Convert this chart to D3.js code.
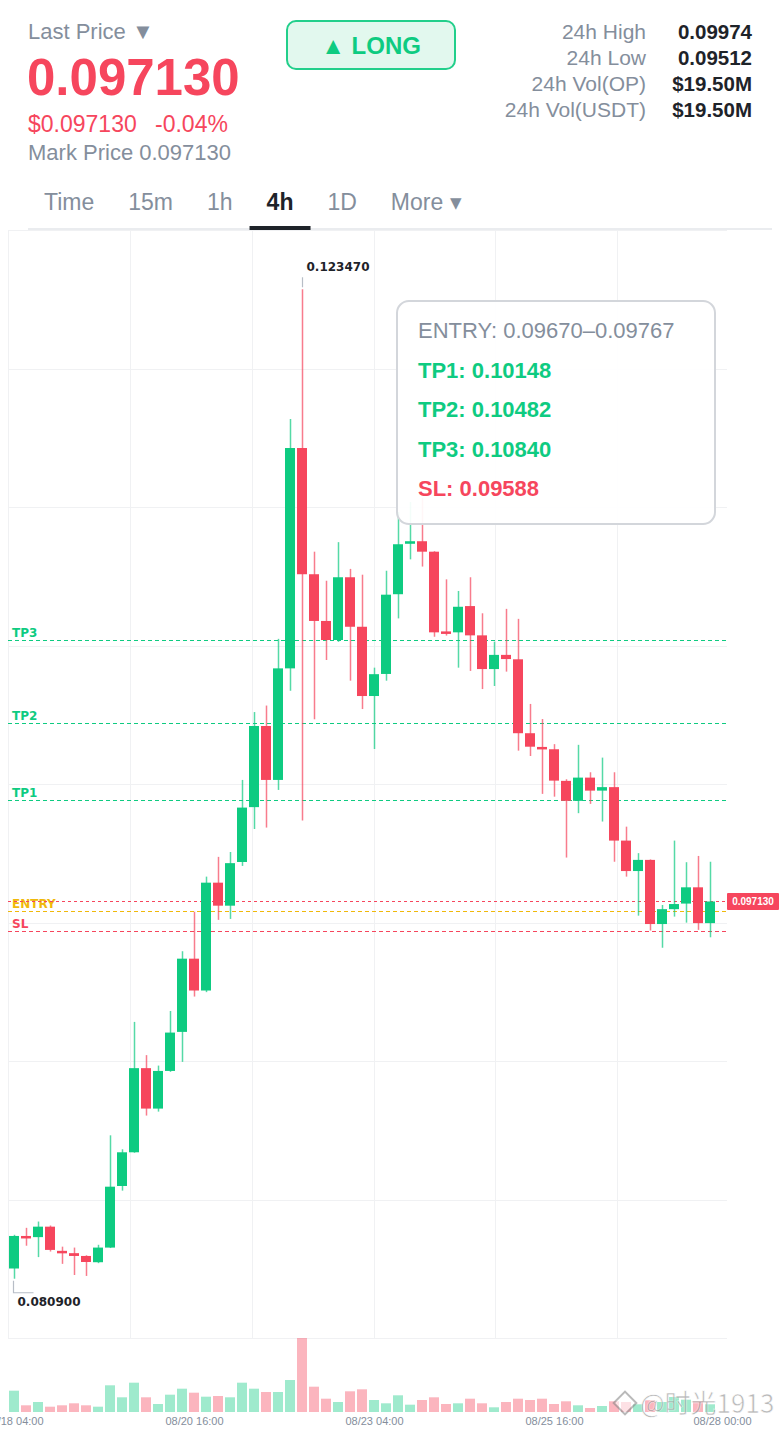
<!DOCTYPE html>
<html>
<head>
<meta charset="utf-8">
<script src="https://cdn.jsdelivr.net/npm/d3@7"></script>
<style>
  body { margin: 0; background: #fff; }
  svg { display: block; }
</style>
</head>
<body>
<div id="wrapper"></div>
<script>
// ---- data ----
const startTime = "2025-08-18 04:00";
const opens  = [0.08134,0.08274,0.08269,0.08314,0.08210,0.08200,0.08188,0.08161,0.08224,0.08489,
                0.08634,0.08996,0.08822,0.08984,0.09152,0.09467,0.09330,0.09794,0.09695,0.09883,
                0.10119,0.10468,0.10236,0.10716,0.11664,0.11121,0.10920,0.10838,0.11108,0.10895,
                0.10597,0.10692,0.11035,0.11252,0.11263,0.11218,0.10875,0.10871,0.10984,0.10858,
                0.10713,0.10774,0.10755,0.10437,0.10378,0.10368,0.10232,0.10146,0.10246,0.10190,
                0.10205,0.09975,0.09844,0.09892,0.09616,0.09680,0.09704,0.09774,0.09620];
const highs  = [0.08279,0.08309,0.08336,0.08319,0.08228,0.08224,0.08191,0.08236,0.08707,0.08647,
                0.09195,0.09052,0.09007,0.09242,0.09499,0.09669,0.09820,0.09905,0.09926,0.10236,
                0.10528,0.10556,0.10843,0.11789,0.12347,0.11218,0.11093,0.11259,0.11144,0.11119,
                0.10719,0.11136,0.11389,0.11432,0.11449,0.11220,0.11099,0.11049,0.11108,0.10953,
                0.10831,0.10972,0.10929,0.10563,0.10498,0.10390,0.10239,0.10387,0.10269,0.10332,
                0.10269,0.10035,0.09921,0.09894,0.09698,0.09975,0.09882,0.09909,0.09884];
const lows   = [0.08090,0.08232,0.08183,0.08207,0.08154,0.08106,0.08102,0.08157,0.08222,0.08469,
                0.08632,0.08792,0.08809,0.08980,0.09023,0.09304,0.09323,0.09634,0.09638,0.09866,
                0.10025,0.10031,0.10193,0.10620,0.10061,0.10497,0.10752,0.10830,0.10663,0.10541,
                0.10369,0.10663,0.10931,0.11185,0.11154,0.10852,0.10857,0.10719,0.10705,0.10627,
                0.10640,0.10702,0.10362,0.10339,0.10176,0.10164,0.09902,0.10093,0.10133,0.10057,
                0.09884,0.09820,0.09652,0.09588,0.09514,0.09648,0.09622,0.09591,0.09559];
const closes = [0.08274,0.08270,0.08314,0.08214,0.08203,0.08188,0.08162,0.08224,0.08486,0.08634,
                0.08996,0.08822,0.08984,0.09149,0.09467,0.09330,0.09794,0.09695,0.09878,0.10117,
                0.10468,0.10236,0.10716,0.11664,0.11121,0.10920,0.10838,0.11108,0.10895,0.10597,
                0.10691,0.11033,0.11250,0.11263,0.11218,0.10871,0.10866,0.10981,0.10858,0.10713,
                0.10774,0.10756,0.10437,0.10379,0.10369,0.10233,0.10146,0.10246,0.10190,0.10205,
                0.09975,0.09844,0.09892,0.09616,0.09680,0.09702,0.09774,0.09620,0.09713];
const volumes = [21.3,6.7,10,5.3,6.7,8.7,6.7,5.3,26.7,14.7,
                 29.3,14.7,8,17.3,23.3,19.3,15.3,16,14.7,29.3,
                 23.3,20,20,32,74,25.3,13.3,10,20.7,22.7,
                 12,8.7,16.7,7.3,12,14.7,8,8.7,13.3,8.7,
                 4.7,10,13.3,12,13.3,8,10.7,6.7,4,6,
                 10.7,10,7.7,11.7,10,15,12.3,10.7,7.7];

const yTickValues = [0.12602,0.11808,0.11013,0.10218,0.09424,0.08629,0.07835];
const xTickLabels = ["08/18 04:00","08/20 16:00","08/23 04:00","08/25 16:00","08/28 00:00"];

const levelNames  = ["TP3","TP2","TP1","ENTRY","SL"];
const levelPrices = [0.10840,0.10482,0.10148,0.09670,0.09588];

const planLabels = ["ENTRY","TP1","TP2","TP3","SL"];
const planTexts  = ["0.09670\u20130.09767","0.10148","0.10482","0.10840","0.09588"];

const statLabels = ["24h High","24h Low","24h Vol(OP)","24h Vol(USDT)"];
const statValues = ["0.09974","0.09512","$19.50M","$19.50M"];

const tabs = ["Time","15m","1h","4h","1D","More \u25BE"];
const activeTab = "4h";

const lastPrice = closes[closes.length - 1];
const changePct = "-0.04%";

// ---- colours / fonts ----
const green = "#0ecb81", red = "#f6465d", orange = "#f0b90b";
const gray = "#848e9c", dark = "#1e2329", grid = "#f0f1f3";
const sans = "'Liberation Sans', Arial, sans-serif";
const dejavu = "'DejaVu Sans', sans-serif";

const parseTime = d3.timeParse("%Y-%m-%d %H:%M");
const t0 = parseTime(startTime);
const candles = opens.map((o, i) => ({
  t: d3.timeHour.offset(t0, 4 * i),
  o, h: highs[i], l: lows[i], c: closes[i], v: volumes[i]
}));

let dimensions = {
  width: 780,
  height: 1430,
  plotLeft: 8,
  plotRight: 727,
  plotTop: 230,
  plotBottom: 1338,
  volBottom: 1412,
}

const wrapper = d3.select("#wrapper")
  .append("svg")
    .attr("width", dimensions.width)
    .attr("height", dimensions.height)
    .attr("font-family", sans)

// ---- header ----
const header = wrapper.append("g")

header.append("text").attr("x", 28).attr("y", 39)
  .attr("font-size", 22).attr("fill", gray).text("Last Price \u25BC")
header.append("text").attr("x", 27).attr("y", 95)
  .attr("font-size", 51).attr("font-weight", 700).attr("fill", red)
  .text(d3.format(".6f")(lastPrice))
header.append("text").attr("x", 28).attr("y", 132)
  .attr("font-size", 23).attr("fill", red).text("$" + d3.format(".6f")(lastPrice))
header.append("text").attr("x", 155).attr("y", 132)
  .attr("font-size", 23).attr("fill", red).text(changePct)
header.append("text").attr("x", 28).attr("y", 160)
  .attr("font-size", 22).attr("fill", gray).text("Mark Price " + d3.format(".6f")(lastPrice))

// LONG badge
header.append("rect")
  .attr("x", 287).attr("y", 21).attr("width", 168).attr("height", 48).attr("rx", 9)
  .attr("fill", "#e2f8ee").attr("stroke", "#22cf8b").attr("stroke-width", 2)
header.append("text").attr("x", 371).attr("y", 54).attr("text-anchor", "middle")
  .attr("font-size", 24).attr("font-weight", 700).attr("fill", green).text("\u25B2 LONG")

// 24h stats
statLabels.forEach((s, i) => {
  header.append("text").attr("x", 646).attr("y", 39 + i * 26).attr("text-anchor", "end")
    .attr("font-size", 21).attr("fill", gray).text(s)
  header.append("text").attr("x", 752).attr("y", 39 + i * 26).attr("text-anchor", "end")
    .attr("font-size", 20.5).attr("font-weight", 700).attr("fill", dark).text(statValues[i])
})

// timeframe tabs
header.append("rect").attr("x", 28).attr("y", 228).attr("width", 744).attr("height", 2).attr("fill", "#eaecef")
let tabX = 44
tabs.forEach(t => {
  const isActive = t === activeTab
  const txt = header.append("text").attr("x", tabX).attr("y", 210)
    .attr("font-size", 23).attr("fill", isActive ? dark : gray)
    .attr("font-weight", isActive ? 700 : 400).text(t)
  const w = txt.node().getComputedTextLength()
  if (isActive) {
    header.append("rect").attr("x", tabX + w / 2 - 30.5).attr("y", 226)
      .attr("width", 61).attr("height", 4).attr("fill", dark)
  }
  tabX += w + 34
})

// ---- scales ----
const yScale = d3.scaleLinear()
  .domain([yTickValues[yTickValues.length - 1], yTickValues[0]])
  .range([dimensions.plotBottom, dimensions.plotTop])

const xScale = d3.scaleTime()
  .domain([d3.timeHour.offset(t0, -2), d3.timeHour.offset(t0, 238)])
  .range([dimensions.plotLeft, dimensions.plotRight + 1])

const volScale = d3.scaleLinear()
  .domain([0, d3.max(volumes)])
  .range([dimensions.volBottom, dimensions.plotBottom])

const step = xScale(d3.timeHour.offset(t0, 4)) - xScale(t0)
const bodyW = step - 2

// ---- grid ----
const gridG = wrapper.append("g")
const hGrid = d3.range(9).map(i => yScale.domain()[0] + i * (yScale.domain()[1] - yScale.domain()[0]) / 8)
gridG.selectAll(".hg").data(hGrid).join("line")
  .attr("x1", dimensions.plotLeft).attr("x2", dimensions.plotRight)
  .attr("y1", d => Math.round(yScale(d)) + 0.5).attr("y2", d => Math.round(yScale(d)) + 0.5)
  .attr("stroke", grid).attr("stroke-width", 1)
const vGrid = d3.range(6).map(i => dimensions.plotLeft + i * (dimensions.plotRight + 12 - dimensions.plotLeft) / 6)
gridG.selectAll(".vg").data(vGrid).join("line")
  .attr("x1", d => Math.round(d) + 0.5).attr("x2", d => Math.round(d) + 0.5)
  .attr("y1", dimensions.plotTop).attr("y2", dimensions.plotBottom)
  .attr("stroke", grid).attr("stroke-width", 1)

// ---- y axis ----
wrapper.append("clipPath").attr("id", "axisClip")
  .append("rect").attr("x", 700).attr("y", 230).attr("width", 80).attr("height", 1200)
const yAxis = wrapper.append("g")
  .attr("clip-path", "url(#axisClip)")
  .attr("transform", `translate(${dimensions.plotRight}, 0)`)
  .call(d3.axisRight(yScale).tickValues(yTickValues).tickFormat(d3.format(".5f")).tickSize(0).tickPadding(4))
yAxis.select(".domain").remove()
yAxis.attr("font-family", sans)
yAxis.selectAll("text").attr("font-size", 10).attr("fill", "#a3a8b0")

// ---- x axis ----
const xAxis = wrapper.append("g")
  .attr("transform", `translate(0, ${dimensions.volBottom})`)
  .call(d3.axisBottom(xScale)
    .tickValues(xTickLabels.map(s => d3.timeParse("%Y/%m/%d %H:%M")(startTime.slice(0, 4) + "/" + s)))
    .tickFormat(d3.timeFormat("%m/%d %H:%M")).tickSize(0).tickPadding(5))
xAxis.select(".domain").remove()
xAxis.attr("font-family", sans)
xAxis.selectAll("text").attr("font-size", 11).attr("fill", gray)

// ---- volume ----
wrapper.append("g").selectAll("rect").data(candles).join("rect")
  .attr("x", d => xScale(d.t) - bodyW / 2)
  .attr("width", bodyW)
  .attr("y", d => volScale(d.v))
  .attr("height", d => dimensions.volBottom - volScale(d.v))
  .attr("fill", d => d.c >= d.o ? green : red)
  .attr("opacity", 0.4)

// ---- level lines ----
const levelColor = n => n === "ENTRY" ? orange : n === "SL" ? red : green
const levels = wrapper.append("g")
levelNames.forEach((n, i) => {
  const y = Math.round(yScale(levelPrices[i])) + 0.5
  levels.append("line")
    .attr("x1", dimensions.plotLeft).attr("x2", dimensions.plotRight)
    .attr("y1", y).attr("y2", y)
    .attr("stroke", levelColor(n)).attr("stroke-width", 1.2)
    .attr("stroke-dasharray", "4,3")
  levels.append("text").attr("x", 12).attr("y", y - 4)
    .attr("font-family", dejavu).attr("font-size", 12).attr("font-weight", 700)
    .attr("fill", levelColor(n)).text(n)
})

// last price line + tag
const yLast = Math.round(yScale(lastPrice)) + 0.5
levels.append("line")
  .attr("x1", dimensions.plotLeft).attr("x2", dimensions.plotRight)
  .attr("y1", yLast).attr("y2", yLast)
  .attr("stroke", red).attr("stroke-width", 1.2).attr("stroke-dasharray", "3,3")
levels.append("rect").attr("x", dimensions.plotRight).attr("y", yLast - 8.5)
  .attr("width", 52).attr("height", 17).attr("rx", 1).attr("fill", red)
levels.append("text").attr("x", dimensions.plotRight + 26).attr("y", yLast + 3.5)
  .attr("text-anchor", "middle").attr("font-size", 10).attr("font-weight", 700)
  .attr("fill", "#fff").text(d3.format(".6f")(lastPrice))

// ---- candles ----
const candleG = wrapper.append("g")
candleG.selectAll(".wick").data(candles).join("line")
  .attr("x1", d => Math.round(xScale(d.t)) + 0.5).attr("x2", d => Math.round(xScale(d.t)) + 0.5)
  .attr("y1", d => yScale(d.h)).attr("y2", d => yScale(d.l))
  .attr("stroke", d => d.c >= d.o ? green : red)
  .attr("stroke-width", 1.5).attr("opacity", 0.7)
candleG.selectAll(".body").data(candles).join("rect")
  .attr("x", d => xScale(d.t) - bodyW / 2)
  .attr("width", bodyW)
  .attr("y", d => yScale(Math.max(d.o, d.c)))
  .attr("height", d => Math.max(2.5, Math.abs(yScale(d.o) - yScale(d.c))))
  .attr("fill", d => d.c >= d.o ? green : red)

// ---- high / low markers ----
const hiIdx = d3.maxIndex(candles, d => d.h)
const loIdx = d3.minIndex(candles, d => d.l)
const hi = candles[hiIdx], lo = candles[loIdx]
const hx = Math.round(xScale(hi.t)) + 0.5
wrapper.append("line").attr("x1", hx).attr("x2", hx)
  .attr("y1", yScale(hi.h) - 12).attr("y2", yScale(hi.h) - 2)
  .attr("stroke", "#b7bdc6").attr("stroke-width", 1.2)
wrapper.append("text").attr("x", hx + 4).attr("y", yScale(hi.h) - 18)
  .attr("font-family", dejavu).attr("font-size", 12).attr("font-weight", 700)
  .attr("fill", dark).text(d3.format(".6f")(hi.h))
const lx = Math.round(xScale(lo.t)) - 0.5
wrapper.append("path")
  .attr("d", `M${lx},${yScale(lo.l) + 2}V${yScale(lo.l) + 14}H${lx + 20}`)
  .attr("fill", "none").attr("stroke", "#b7bdc6").attr("stroke-width", 1.2)
wrapper.append("text").attr("x", lx + 4).attr("y", yScale(lo.l) + 27)
  .attr("font-family", dejavu).attr("font-size", 12).attr("font-weight", 700)
  .attr("fill", dark).text(d3.format(".6f")(lo.l))

// ---- trade plan box ----
const tip = wrapper.append("g").attr("transform", "translate(397, 301)")
tip.append("rect").attr("width", 318).attr("height", 223).attr("rx", 12)
  .attr("fill", "#fff").attr("fill-opacity", 0.93)
  .attr("stroke", "#d3d6db").attr("stroke-width", 2)
planLabels.forEach((p, i) => {
  const isEntry = p === "ENTRY"
  tip.append("text").attr("x", 21).attr("y", 37 + i * 39.5)
    .attr("font-size", 22).attr("font-weight", isEntry ? 400 : 700)
    .attr("fill", isEntry ? gray : levelColor(p))
    .text(`${p}: ${planTexts[i]}`)
})

// ---- watermark ----
const wm = wrapper.append("g").attr("opacity", 0.6)
wm.append("rect").attr("x", -8).attr("y", -8).attr("width", 16).attr("height", 16)
  .attr("transform", "translate(625, 1403) rotate(45)")
  .attr("fill", "#fff").attr("stroke", "#8c8c8c").attr("stroke-width", 2)
wm.append("text").attr("x", 640).attr("y", 1413)
  .attr("font-family", "'Noto Sans CJK SC', sans-serif").attr("font-size", 26)
  .attr("fill", "#8c8c8c").attr("stroke", "#fff").attr("stroke-width", 0.6)
  .text("@\u65F6\u51491913")
</script>
</body>
</html>
